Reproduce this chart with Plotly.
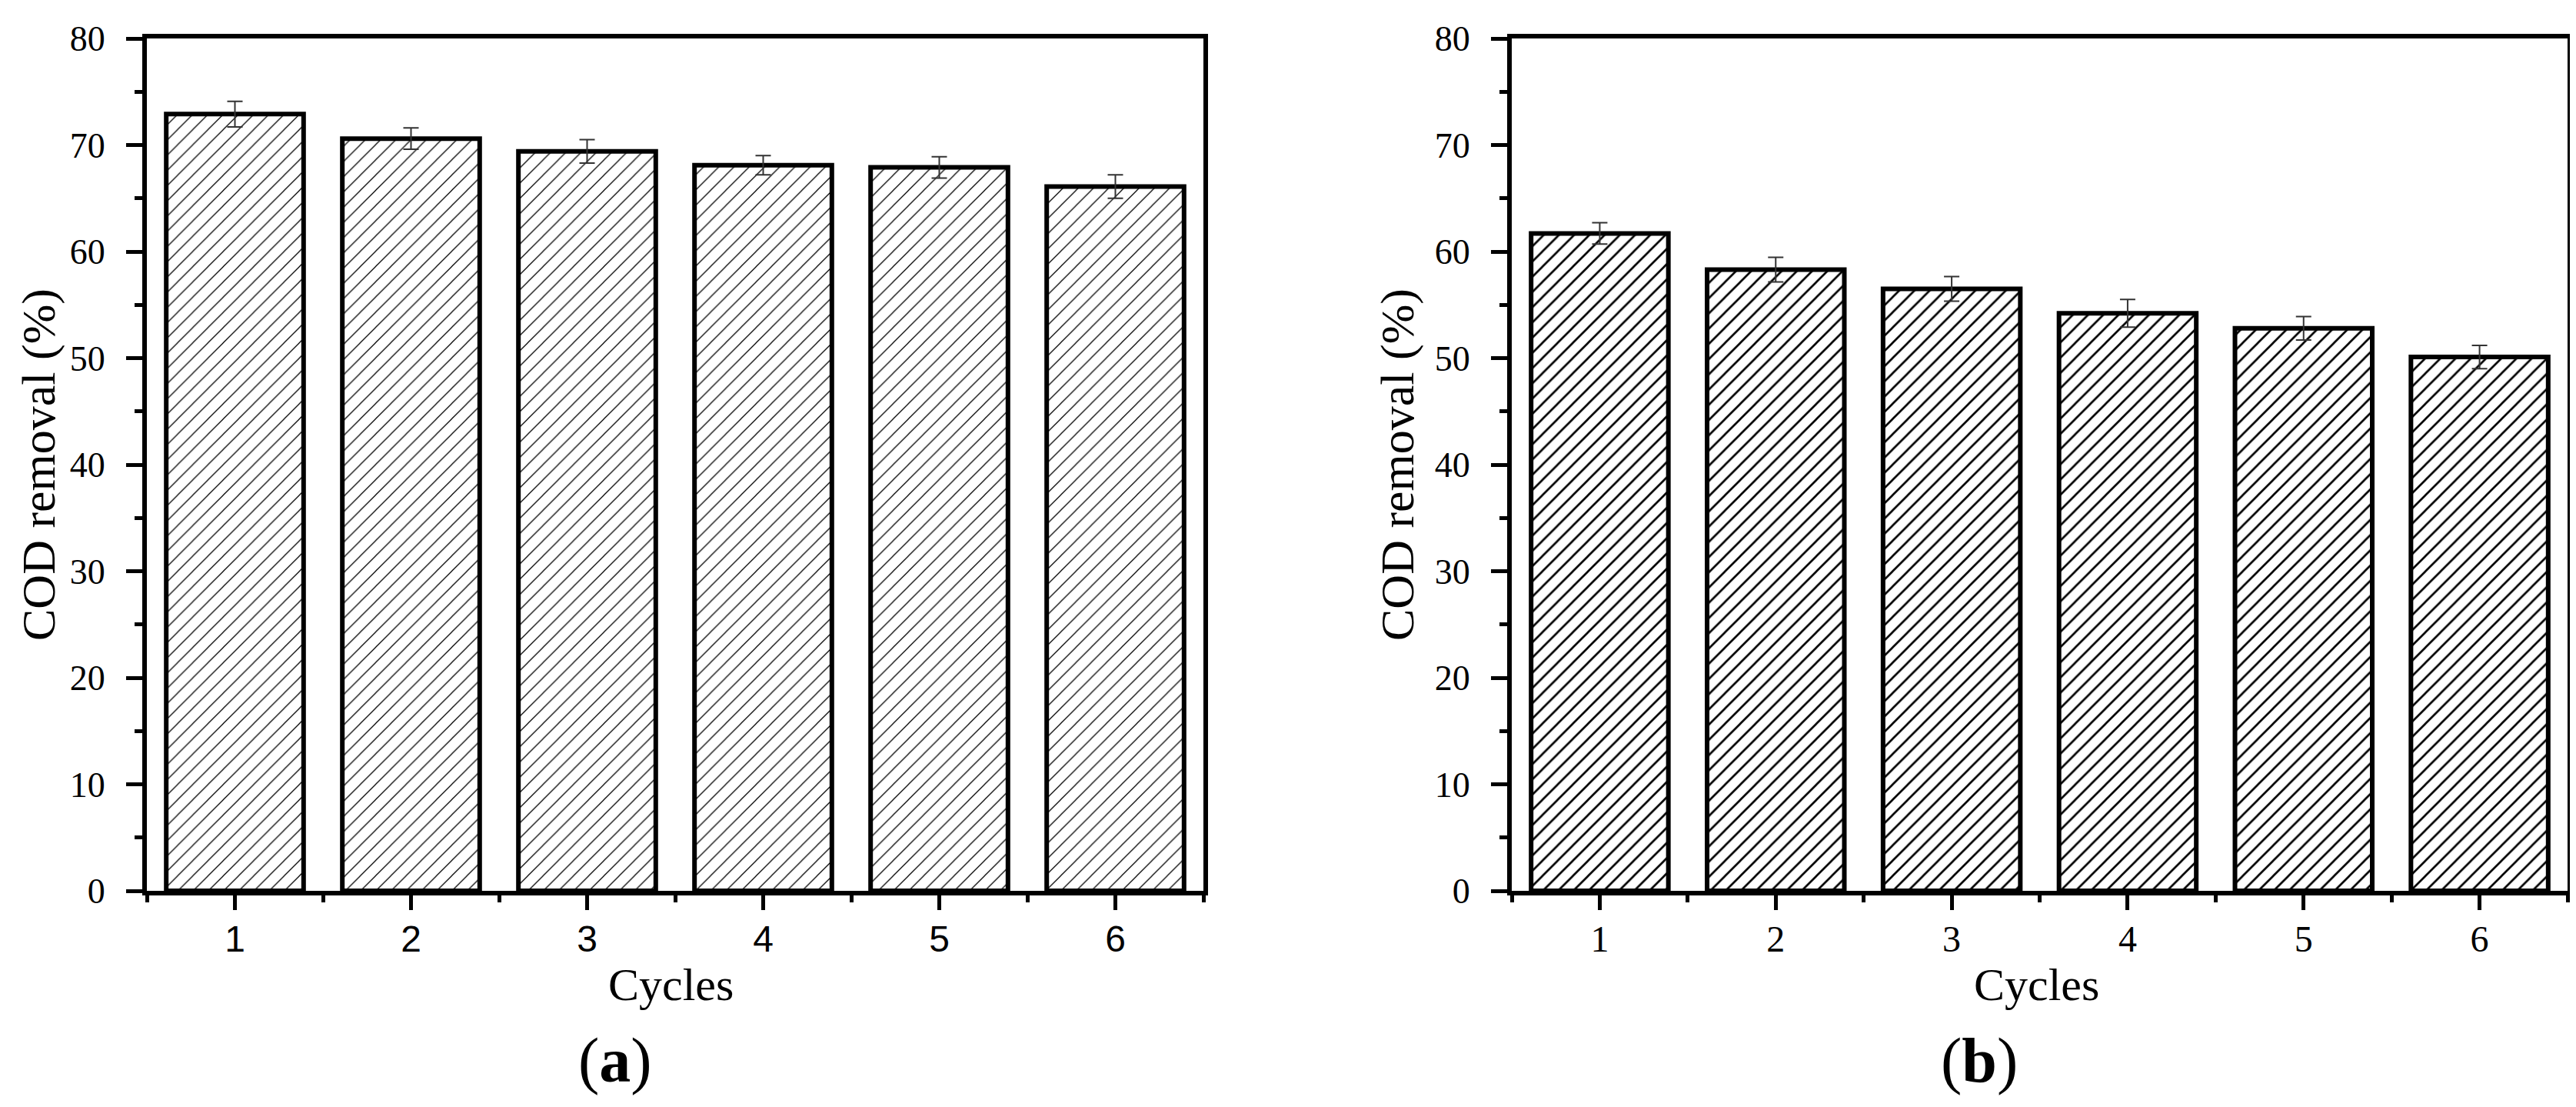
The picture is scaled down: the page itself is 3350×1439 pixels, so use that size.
import plotly.graph_objects as go

cycles = [1, 2, 3, 4, 5, 6]
removal_a = [72.9, 70.6, 69.4, 68.1, 67.9, 66.1]
err_a = [1.2, 1.0, 1.1, 0.9, 1.0, 1.1]
removal_b = [61.7, 58.3, 56.5, 54.2, 52.8, 50.1]
err_b = [1.0, 1.15, 1.15, 1.3, 1.1, 1.1]

y_title = "COD removal (%)"
x_title = "Cycles"
panel_labels = ["(<b>a</b>)", "(<b>b</b>)"]

SERIF = "Liberation Serif, Times New Roman, serif"
SANS = "Liberation Sans, Arial, sans-serif"
W, H = 3350, 1439

fig = go.Figure()


def add_bars(x, y, err, xa, ya, hatch_size, solidity):
    fig.add_trace(go.Bar(
        x=x, y=y, xaxis=xa, yaxis=ya, width=0.78,
        marker=dict(
            color="white",
            line=dict(color="black", width=6),
            pattern=dict(shape="/", size=hatch_size, solidity=solidity,
                         fgcolor="black", bgcolor="white", fillmode="replace"),
        ),
        error_y=dict(type="data", array=err, visible=True, color="#333333",
                     thickness=2, width=10),
        showlegend=False,
    ))


add_bars(cycles, removal_a, err_a, "x", "y", 14, 0.09)
add_bars(cycles, removal_b, err_b, "x2", "y2", 14, 0.19)

ydom = [1 - 1150 / H, 1 - 42 / H]
common_x = dict(
    range=[0.5, 6.5], tick0=1, dtick=1, showline=True, linecolor="black",
    linewidth=6, mirror=True, ticks="outside", ticklen=19, tickwidth=5,
    tickcolor="black", showgrid=False, zeroline=False,
    minor=dict(ticks="outside", tick0=0.5, dtick=1, ticklen=9, tickwidth=5,
               tickcolor="black"),
    ticklabelstandoff=-4,
)
common_y = dict(
    range=[0, 80], tick0=0, dtick=10, showline=True, linecolor="black",
    linewidth=6, mirror=True, ticks="outside", ticklen=21, tickwidth=5,
    tickcolor="black", showgrid=False, zeroline=False,
    tickfont=dict(family=SERIF, size=46, color="black"),
    minor=dict(ticks="outside", dtick=5, ticklen=10, tickwidth=5,
               tickcolor="black"),
    ticklabelstandoff=18,
)


def text_ann(text, xp, yp, size, angle=0):
    return dict(text=text, x=xp / W, y=1 - yp / H, xref="paper", yref="paper",
                showarrow=False, xanchor="center", yanchor="middle",
                textangle=angle, font=dict(family=SERIF, size=size, color="black"))


fig.update_layout(
    width=W, height=H,
    margin=dict(l=0, r=0, t=0, b=0, autoexpand=False),
    paper_bgcolor="white", plot_bgcolor="white",
    xaxis=dict(domain=[183 / W, 1557 / W], anchor="y",
               tickfont=dict(family=SANS, size=48, color="black"), **common_x),
    yaxis=dict(domain=ydom, anchor="x", **common_y),
    xaxis2=dict(domain=[1958 / W, 3331 / W], anchor="y2",
                tickfont=dict(family=SERIF, size=48, color="black"), **common_x),
    yaxis2=dict(domain=ydom, anchor="x2", **common_y),
    annotations=[
        text_ann(x_title, 864, 1272, 60),
        text_ann(x_title, 2640, 1272, 60),
        text_ann(y_title, 42, 596, 62, -90),
        text_ann(y_title, 1809, 596, 62, -90),
        text_ann(panel_labels[0], 792, 1370, 82),
        text_ann(panel_labels[1], 2566, 1370, 82),
    ],
)

fig.write_html("out.html")
